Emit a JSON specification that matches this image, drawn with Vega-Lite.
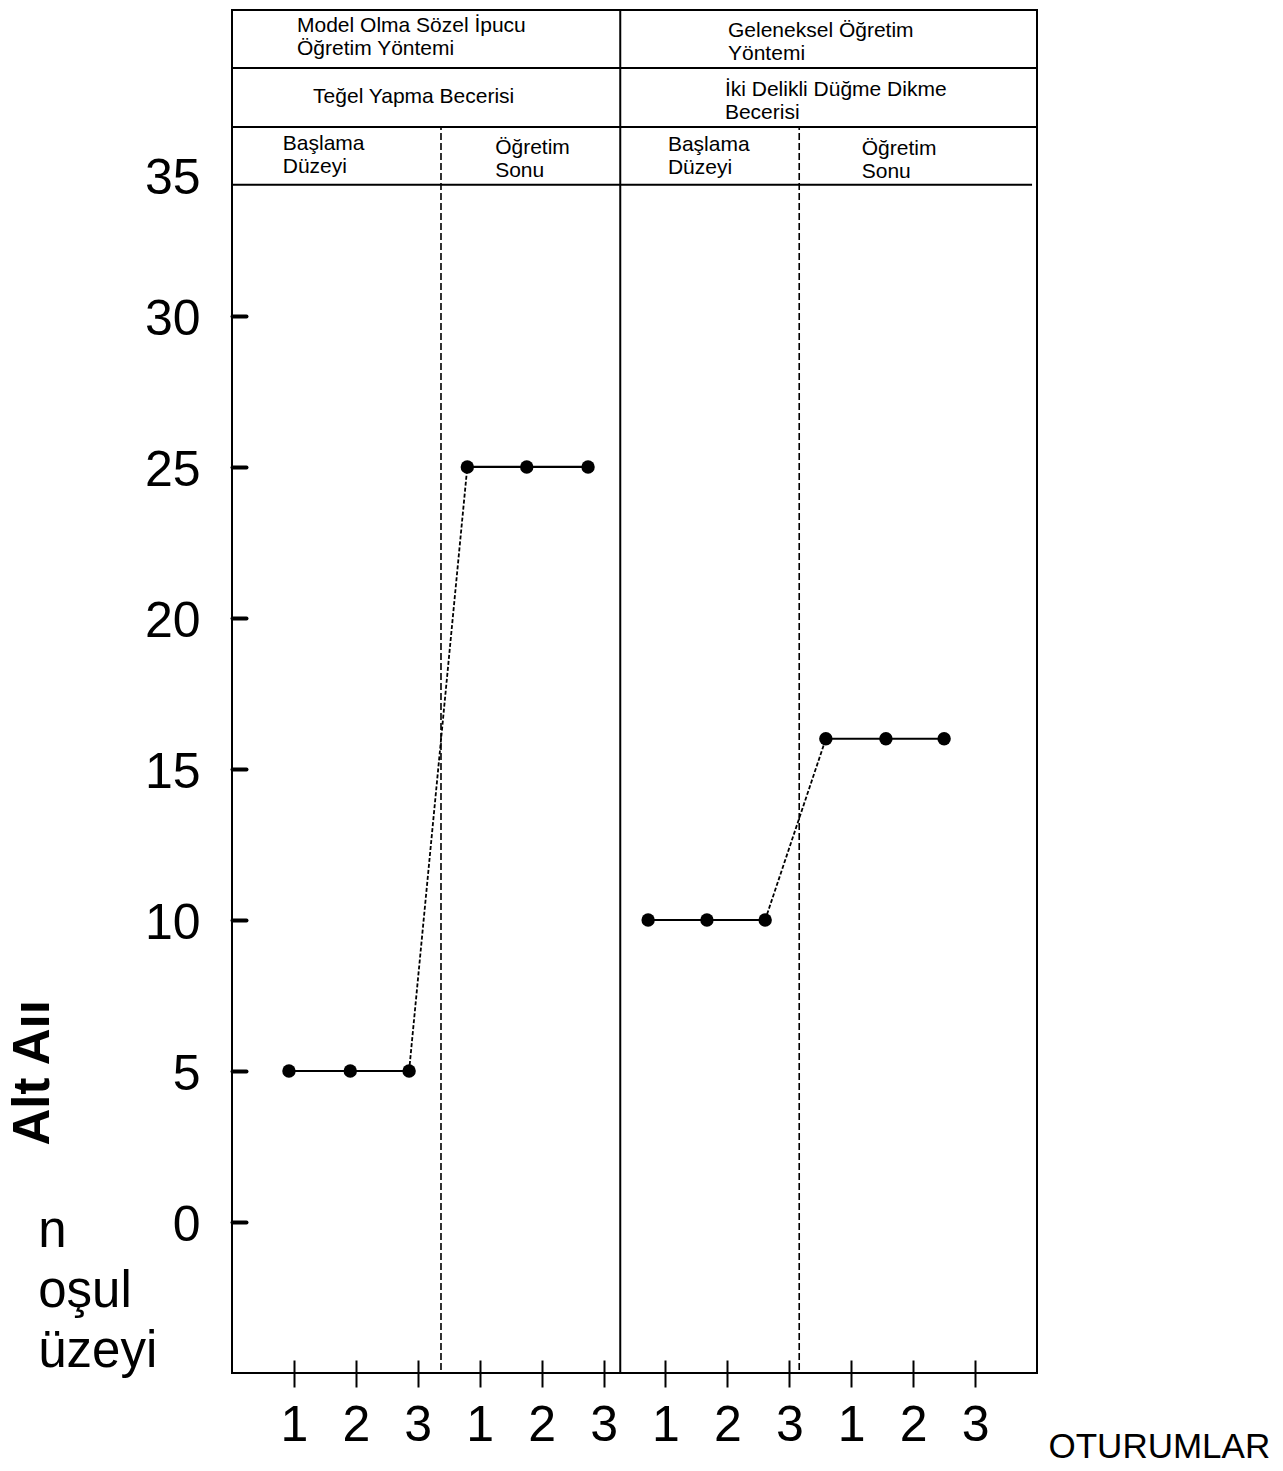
{
  "$schema": "https://vega.github.io/schema/vega-lite/v6.json",
  "autosize": {"type": "none"},
  "padding": {"left": 232, "top": 10, "right": 246, "bottom": 98},
  "width": 805,
  "height": 1363,
  "background": "white",
  "config": {
    "view": {"stroke": "black", "strokeWidth": 2},
    "font": "Liberation Sans"
  },
  "datasets": {
    "points": [
      {"skill": "Teğel Yapma", "phase": "Başlama Düzeyi", "session": 1, "x": 0.92, "score": 5},
      {"skill": "Teğel Yapma", "phase": "Başlama Düzeyi", "session": 2, "x": 1.91, "score": 5},
      {"skill": "Teğel Yapma", "phase": "Başlama Düzeyi", "session": 3, "x": 2.86, "score": 5},
      {"skill": "Teğel Yapma", "phase": "Öğretim Sonu", "session": 1, "x": 3.80, "score": 25},
      {"skill": "Teğel Yapma", "phase": "Öğretim Sonu", "session": 2, "x": 4.76, "score": 25},
      {"skill": "Teğel Yapma", "phase": "Öğretim Sonu", "session": 3, "x": 5.75, "score": 25},
      {"skill": "Düğme Dikme", "phase": "Başlama Düzeyi", "session": 1, "x": 6.72, "score": 10},
      {"skill": "Düğme Dikme", "phase": "Başlama Düzeyi", "session": 2, "x": 7.67, "score": 10},
      {"skill": "Düğme Dikme", "phase": "Başlama Düzeyi", "session": 3, "x": 8.61, "score": 10},
      {"skill": "Düğme Dikme", "phase": "Öğretim Sonu", "session": 1, "x": 9.59, "score": 16},
      {"skill": "Düğme Dikme", "phase": "Öğretim Sonu", "session": 2, "x": 10.56, "score": 16},
      {"skill": "Düğme Dikme", "phase": "Öğretim Sonu", "session": 3, "x": 11.50, "score": 16}
    ],
    "frame": [
      {"style": "solid", "x": 0, "x2": 13, "y": 38.21, "y2": 38.21},
      {"style": "solid", "x": 0, "x2": 13, "y": 36.26, "y2": 36.26},
      {"style": "solid", "x": 0, "x2": 12.92, "y": 34.34, "y2": 34.34},
      {"style": "solid", "x": 6.27, "x2": 6.27, "y": -5, "y2": 40.13},
      {"style": "dashed", "x": 3.375, "x2": 3.375, "y": -4.9, "y2": 36.26},
      {"style": "dashed", "x": 9.16, "x2": 9.16, "y": -4.9, "y2": 36.26}
    ],
    "labels": [
      {"text": "Model Olma Sözel  İpucu\nÖğretim Yöntemi", "x": 1.05, "y": 39.41},
      {"text": "Geleneksel Öğretim\nYöntemi", "x": 8.01, "y": 39.24},
      {"text": "Teğel Yapma Becerisi", "x": 1.31, "y": 37.05},
      {"text": "İki Delikli Düğme Dikme\nBecerisi", "x": 7.96, "y": 37.28},
      {"text": "Başlama\nDüzeyi", "x": 0.82, "y": 35.5},
      {"text": "Öğretim\nSonu", "x": 4.25, "y": 35.37},
      {"text": "Başlama\nDüzeyi", "x": 7.04, "y": 35.45},
      {"text": "Öğretim\nSonu", "x": 10.17, "y": 35.33}
    ],
    "side": [
      {"text": "n\noşul\nüzeyi", "x": -3.13, "y": -0.83}
    ]
  },
  "encoding": {
    "x": {"type": "quantitative", "scale": {"domain": [0, 13], "nice": false, "zero": false}},
    "y": {"type": "quantitative", "scale": {"domain": [-5, 40.13], "nice": false, "zero": false}}
  },
  "layer": [
    {
      "data": {"name": "frame"},
      "mark": {"type": "rule", "color": "black", "clip": false},
      "encoding": {
        "x": {"field": "x", "type": "quantitative",
          "axis": {
            "values": [1, 2, 3, 4, 5, 6, 7, 8, 9, 10, 11, 12],
            "labelExpr": "'' + ((datum.value - 1) % 3 + 1)",
            "domain": false, "grid": false,
            "offset": -13, "tickSize": 27, "tickWidth": 2, "tickColor": "black",
            "labelFontSize": 50, "labelColor": "black", "labelPadding": 53,
            "labelBaseline": "alphabetic", "labelFont": "Liberation Sans",
            "title": "OTURUMLAR", "titleFontSize": 35, "titleFontWeight": "normal",
            "titleColor": "black", "titleFont": "Liberation Sans",
            "titleX": 816, "titleY": 97, "titleAlign": "left", "titleBaseline": "alphabetic", "titleAnchor": null
          }
        },
        "x2": {"field": "x2"},
        "y": {"field": "y", "type": "quantitative",
          "axis": {
            "values": [0, 5, 10, 15, 20, 25, 30, 35],
            "domain": false, "grid": false,
            "tickSize": -14, "tickWidth": 4, "tickColor": "black", "tickCap": "round",
            "tickOpacity": {"condition": {"test": "datum.value == 35", "value": 0}, "value": 1},
            "labelFontSize": 50, "labelColor": "black", "labelPadding": 46,
            "labelOffset": {"condition": {"test": "datum.value == 35", "value": 14}, "value": 4},
            "labelFont": "Liberation Sans",
            "title": "Alt Aıı", "titleFontSize": 51, "titleFontWeight": "bold", "titleColor": "black",
            "titleFont": "Liberation Sans", "titleAngle": 270,
            "titleX": -184, "titleY": 1135, "titleAlign": "left", "titleBaseline": "alphabetic", "titleAnchor": null
          }
        },
        "y2": {"field": "y2"},
        "strokeWidth": {"condition": {"test": "datum.style == 'dashed'", "value": 1.6}, "value": 2},
        "strokeDash": {"condition": {"test": "datum.style == 'dashed'", "value": [7, 3]}, "value": [1, 0]}
      }
    },
    {
      "data": {"name": "points"},
      "transform": [
        {"window": [
          {"op": "lead", "field": "x", "as": "nx"},
          {"op": "lead", "field": "score", "as": "ny"},
          {"op": "lead", "field": "phase", "as": "nphase"}
        ], "groupby": ["skill"], "sort": [{"field": "x"}]},
        {"filter": "datum.nx != null"}
      ],
      "mark": {"type": "rule", "color": "black"},
      "encoding": {
        "x": {"field": "x", "type": "quantitative"},
        "x2": {"field": "nx"},
        "y": {"field": "score", "type": "quantitative"},
        "y2": {"field": "ny"},
        "strokeWidth": {"condition": {"test": "datum.phase != datum.nphase", "value": 1.8}, "value": 2.2},
        "strokeDash": {"condition": {"test": "datum.phase != datum.nphase", "value": [4, 2]}, "value": [1, 0]}
      }
    },
    {
      "data": {"name": "points"},
      "mark": {"type": "circle", "color": "black", "opacity": 1, "size": 180},
      "encoding": {
        "x": {"field": "x", "type": "quantitative"},
        "y": {"field": "score", "type": "quantitative"}
      }
    },
    {
      "data": {"name": "labels"},
      "mark": {"type": "text", "align": "left", "baseline": "alphabetic", "lineBreak": "\n", "lineHeight": 23, "fontSize": 21, "color": "black", "font": "Liberation Sans"},
      "encoding": {
        "x": {"field": "x", "type": "quantitative"},
        "y": {"field": "y", "type": "quantitative"},
        "text": {"field": "text"}
      }
    },
    {
      "data": {"name": "side"},
      "mark": {"type": "text", "align": "left", "baseline": "alphabetic", "lineBreak": "\n", "lineHeight": 60, "fontSize": 51, "color": "black", "font": "Liberation Sans", "clip": false},
      "encoding": {
        "x": {"field": "x", "type": "quantitative"},
        "y": {"field": "y", "type": "quantitative"},
        "text": {"field": "text"}
      }
    }
  ]
}
